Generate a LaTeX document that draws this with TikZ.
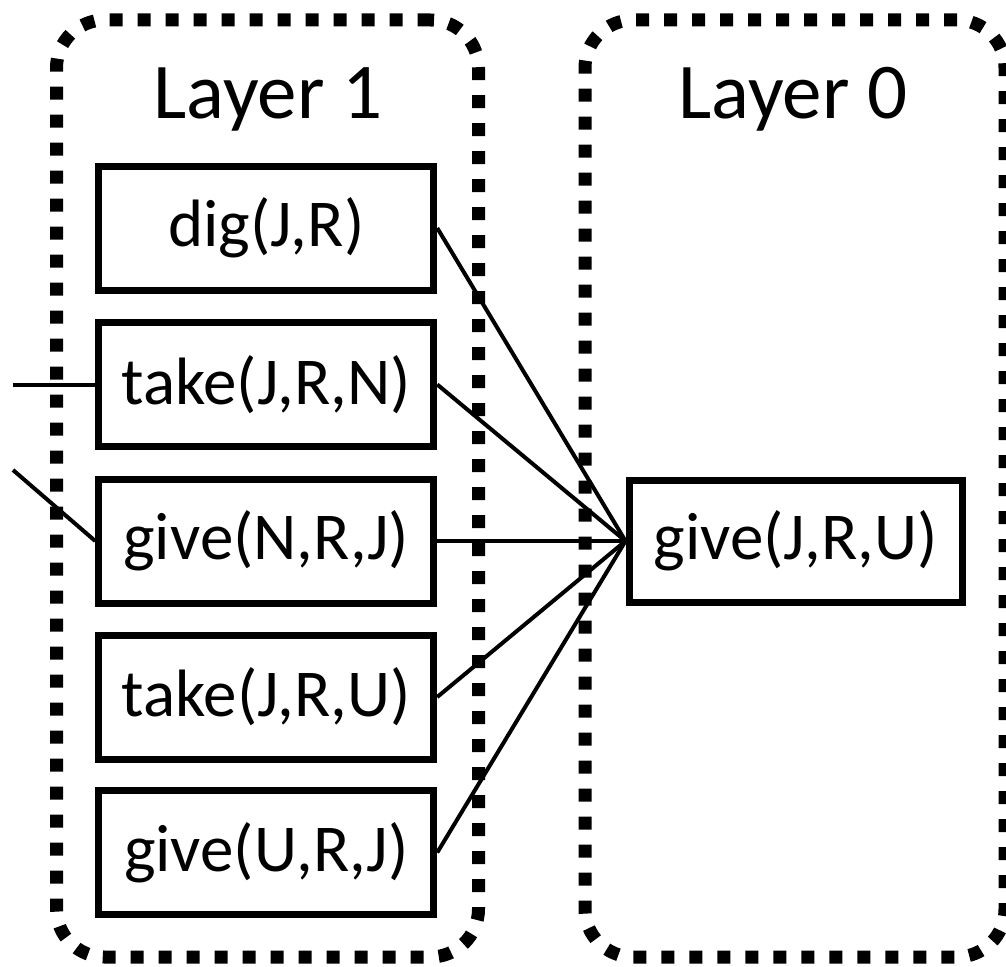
\documentclass[tikz,border=0pt]{standalone}
\usepackage{fontspec}
\setmainfont{Carlito}
\begin{document}
\begin{tikzpicture}[x=1pt,y=-1pt,
  layerbox/.style={draw, line width=13pt, dash pattern=on 13pt off 15pt,
    rounded corners=48pt, inner sep=0pt, outer sep=0pt},
  title/.style={anchor=base, inner sep=0pt, font=\fontsize{79}{82}\selectfont},
  pred/.style={draw, line width=7pt, minimum width=335pt, minimum height=124pt,
    inner sep=0pt, font=\fontsize{67}{72}\selectfont},
  link/.style={line width=4pt}]
\useasboundingbox (0,0) rectangle (1006,966);

% the two layers
\node[layerbox, minimum width=422pt, minimum height=937pt] (L1) at (267.5,488.5) {};
\node[layerbox, minimum width=420pt, minimum height=937pt] (L0) at (795,488.5) {};
\node[title] (t1) at (268,118) {Layer 1};
\node[title] (t0) at (793,118) {Layer 0};

% actions of layer 1
\node[pred] (dig)   at (266.25,228)   {dig(J,R)};
\node[pred] (takeN) at (266.25,384.5) {take(J,R,N)};
\node[pred] (giveN) at (266.25,541)   {give(N,R,J)};
\node[pred] (takeU) at (266.25,697)   {take(J,R,U)};
\node[pred] (giveU) at (266.25,852.5) {give(U,R,J)};

% action of layer 0
\node[pred, minimum width=333pt, minimum height=122pt] (goal) at (795.5,541) {give(J,R,U)};

% links between the layers
\foreach \n in {dig,takeN,giveN,takeU,giveU}
  \draw[link] (\n.east) -- (goal.west);

% links coming from further left
\coordinate (inA) at (13,384.5);
\coordinate (inB) at (13,470);
\draw[link] (inA) -- (takeN.west);
\draw[link] (inB) -- (giveN.west);
\end{tikzpicture}
\end{document}
